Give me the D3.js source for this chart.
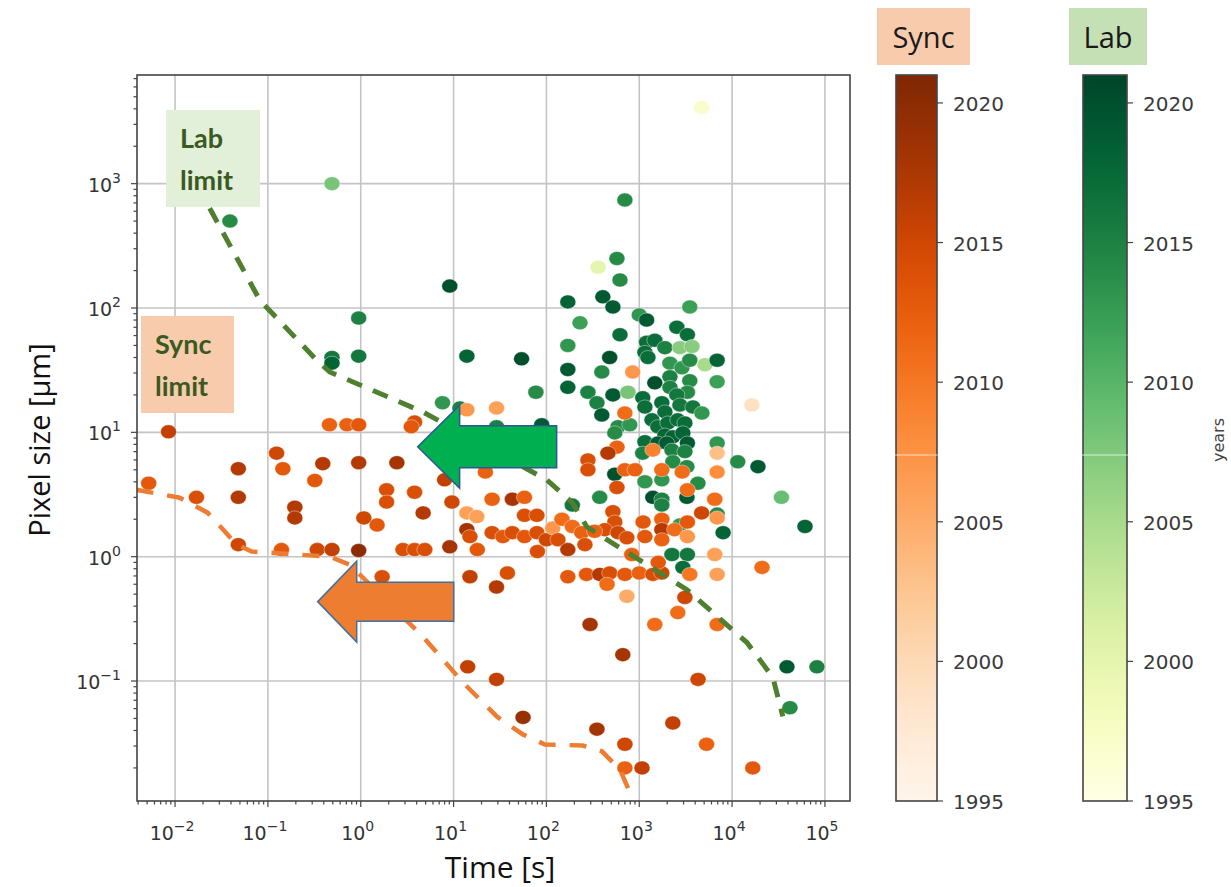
<!DOCTYPE html>
<html>
<head>
<meta charset="utf-8">
<script src="https://cdn.jsdelivr.net/npm/d3@7"></script>
<style>
  body { margin: 0; background: #fff; }
  svg { display: block; }
</style>
</head>
<body>
<svg id="chart" width="1231" height="887"></svg>
<script>
// [time s, pixel size um, year]
var syncData = [
  [0.0085, 10.1, 2016], [0.0052, 3.9, 2013], [0.017, 3.0, 2014], [0.048, 5.1, 2017], [0.048, 3.0, 2017],
  [0.048, 1.25, 2015], [0.124, 6.8, 2015], [0.145, 5.1, 2013], [0.39, 5.6, 2017], [0.32, 4.1, 2013],
  [0.195, 2.5, 2017], [0.195, 2.05, 2017], [0.14, 1.14, 2013], [0.34, 1.14, 2015], [0.49, 1.14, 2016],
  [0.95, 5.7, 2017], [0.95, 1.12, 2020], [1.08, 2.05, 2015], [0.46, 11.5, 2012], [0.71, 11.5, 2012],
  [0.95, 11.5, 2013], [3.8, 12.1, 2014], [3.5, 11.1, 2013], [13.9, 15.2, 2007], [29, 15.7, 2006],
  [2.45, 5.7, 2018], [1.9, 3.45, 2014], [1.9, 2.75, 2014], [3.8, 3.3, 2014], [4.7, 2.25, 2017],
  [1.5, 1.8, 2013], [8.0, 4.15, 2016], [9.6, 2.75, 2015], [22, 4.8, 2012], [2.85, 1.14, 2014],
  [3.8, 1.14, 2014], [4.9, 1.14, 2014], [9.1, 1.2, 2018], [13.9, 2.25, 2006], [17.8, 2.1, 2006],
  [13.9, 1.65, 2018], [15, 1.45, 2014], [18, 1.14, 2013], [26, 2.9, 2012], [43, 2.9, 2018],
  [58, 3.0, 2012], [26, 1.56, 2014], [34, 1.45, 2013], [43, 1.56, 2014], [58, 1.45, 2013],
  [79, 1.56, 2014], [100, 1.37, 2015], [58, 2.15, 2014], [79, 2.15, 2014], [80, 1.1, 2014],
  [117, 1.7, 2007], [15, 0.69, 2016], [29, 0.57, 2017], [38, 0.74, 2014], [1.7, 0.69, 2014],
  [170, 0.69, 2013], [270, 0.72, 2013], [375, 0.72, 2017], [480, 0.74, 2014], [700, 0.72, 2013],
  [1000, 0.74, 2012], [1400, 0.72, 2014], [1750, 0.74, 2015], [450, 0.6, 2011], [735, 0.48, 2005],
  [295, 0.285, 2018], [665, 0.163, 2018], [14.2, 0.13, 2016], [29, 0.103, 2016], [56, 0.051, 2019],
  [350, 0.041, 2018], [700, 0.031, 2015], [700, 0.020, 2012], [1070, 0.020, 2016], [1470, 0.285, 2011],
  [2600, 0.355, 2011], [3100, 0.47, 2015], [3500, 0.72, 2010], [6900, 0.72, 2006], [6900, 0.285, 2011],
  [21000, 0.82, 2011], [4300, 0.103, 2015], [2300, 0.046, 2016], [5300, 0.031, 2012], [16700, 0.020, 2013],
  [575, 7.6, 2012], [460, 6.8, 2017], [280, 6.0, 2014], [280, 5.0, 2014], [700, 5.0, 2012],
  [900, 5.0, 2012], [575, 3.6, 2014], [1400, 7.2, 2009], [1750, 5.0, 2011], [2900, 4.8, 2011],
  [3300, 3.45, 2011], [6500, 2.9, 2011], [6900, 6.8, 2003], [6900, 4.8, 2008], [520, 2.3, 2014],
  [545, 1.9, 2014], [425, 1.65, 2014], [590, 1.56, 2015], [735, 1.42, 2014], [147, 2.0, 2011],
  [190, 1.75, 2011], [240, 1.56, 2012], [330, 1.6, 2012], [133, 1.37, 2014], [170, 1.14, 2017],
  [260, 1.25, 2014], [1100, 1.9, 2013], [1150, 1.45, 2013], [1750, 2.0, 2012], [1750, 1.65, 2017],
  [1750, 1.37, 2012], [2400, 1.65, 2011], [3300, 1.9, 2013], [4700, 2.25, 2015], [6900, 2.05, 2007],
  [3300, 1.45, 2007], [6500, 1.04, 2006], [830, 1.04, 2012], [1600, 0.9, 2013], [850, 30.6, 2007],
  [700, 14.3, 2011], [16300, 16.6, 1999]
];

var labData = [
  [0.49, 1000, 2008], [0.039, 500, 2014], [9.1, 150, 2020], [0.95, 83, 2015], [0.49, 40, 2016],
  [0.49, 36, 2018], [0.95, 41, 2016], [13.9, 41, 2018], [54, 39, 2020], [77, 21, 2014],
  [7.6, 17.3, 2013], [11.7, 15.7, 2015], [29, 11.1, 2015], [89, 11.5, 2019], [4700, 4100, 1997],
  [700, 740, 2014], [575, 250, 2014], [620, 168, 2014], [360, 213, 2000], [170, 112, 2018],
  [405, 123, 2019], [520, 102, 2019], [3500, 102, 2012], [230, 76, 2012], [1000, 88, 2013],
  [1200, 80, 2019], [620, 61, 2017], [2540, 70, 2017], [3300, 61, 2017], [170, 50, 2013],
  [480, 40, 2020], [1200, 53, 2017], [1470, 55, 2017], [1150, 44, 2017], [1240, 40, 2017],
  [1890, 48, 2015], [2740, 48, 2007], [3700, 49, 2007], [2140, 36, 2013], [2880, 33, 2013],
  [3500, 38, 2014], [5100, 35, 2005], [6900, 38, 2018], [6900, 25.5, 2012], [170, 32, 2019],
  [395, 30.6, 2014], [170, 23, 2018], [280, 21, 2015], [350, 17.3, 2015], [520, 20, 2019],
  [755, 21, 2008], [1470, 25, 2020], [2140, 28, 2015], [2140, 23, 2015], [3500, 26, 2014],
  [3300, 21, 2014], [1090, 19, 2017], [1150, 16, 2017], [1750, 17.3, 2017], [1890, 14.6, 2017],
  [2540, 20, 2016], [2740, 16.6, 2016], [3780, 16, 2016], [4730, 14.3, 2013], [395, 13.8, 2019],
  [590, 11.1, 2014], [545, 9.9, 2014], [790, 11.5, 2013], [1370, 12.6, 2017], [1585, 11.1, 2017],
  [2030, 11.9, 2017], [2600, 12.6, 2017], [3100, 11.9, 2017], [1890, 9.5, 2018], [2300, 9.2, 2018],
  [2950, 9.9, 2018], [1150, 8.4, 2017], [1585, 8.2, 2019], [3300, 8.2, 2019], [6900, 8.2, 2013],
  [1980, 8.2, 2019], [2250, 7.2, 2015], [3100, 7.0, 2015], [1090, 6.8, 2015], [11500, 5.8, 2014],
  [19000, 5.3, 2019], [2300, 5.8, 2014], [3260, 5.3, 2014], [4280, 3.9, 2014], [545, 4.6, 2020],
  [1150, 4.0, 2013], [1750, 4.15, 2013], [375, 3.0, 2014], [1400, 3.0, 2020], [1750, 2.9, 2015],
  [1750, 2.6, 2015], [3260, 3.0, 2019], [190, 2.6, 2016], [6900, 2.2, 2014], [8000, 1.56, 2018],
  [2740, 1.8, 2013], [2250, 1.04, 2016], [3300, 1.04, 2016], [2950, 0.82, 2017], [34000, 3.0, 2009],
  [61000, 1.75, 2018], [39000, 0.13, 2019], [82000, 0.13, 2015], [42000, 0.061, 2014]
];

// dashed limit curves [time, size]
var labLimit = [
  [0.0236, 635], [0.0816, 116], [0.336, 38], [0.463, 30.6], [4.66, 14.6], [101, 4.15],
  [191, 2.71], [272, 1.74], [617, 1.18], [3258, 0.543], [14450, 0.204], [27500, 0.107], [35200, 0.052]
];
var syncLimit = [
  [0.00385, 3.45], [0.0112, 2.98], [0.0224, 2.26], [0.0462, 1.25], [0.0669, 1.10], [0.463, 1.0],
  [0.76, 0.863], [4.66, 0.228], [12.6, 0.0973], [29.2, 0.0519], [55.7, 0.0372], [96, 0.0309],
  [246, 0.0303], [396, 0.0272], [617, 0.0195], [794, 0.0127]
];

var xTickExps = [-2, -1, 0, 1, 2, 3, 4, 5];
var yTickExps = [-1, 0, 1, 2, 3];
var yearTicks = [1995, 2000, 2005, 2010, 2015, 2020];
var yearRange = [1995, 2021];

var svg = d3.select("#chart");
var plotL = 137, plotR = 850, plotT = 75, plotB = 801;

var x = d3.scaleLog().domain([Math.pow(10, -2.41), Math.pow(10, 5.27)]).range([plotL, plotR]);
var y = d3.scaleLog().domain([Math.pow(10, -1.965), Math.pow(10, 3.874)]).range([plotB, plotT]);
var syncColor = d3.scaleSequential(d3.interpolateOranges).domain(yearRange);
var labColor = d3.scaleSequential(d3.interpolateYlGn).domain(yearRange);

svg.append("defs").append("clipPath").attr("id", "plotClip")
  .append("rect").attr("x", plotL).attr("y", plotT)
  .attr("width", plotR - plotL).attr("height", plotB - plotT);

// grid
var grid = svg.append("g");
grid.selectAll(".gx").data(xTickExps).enter().append("line")
  .attr("x1", function(d) { return x(Math.pow(10, d)); })
  .attr("x2", function(d) { return x(Math.pow(10, d)); })
  .attr("y1", plotT).attr("y2", plotB)
  .attr("stroke", "#c4c4c4").attr("stroke-width", 1.6);
grid.selectAll(".gy").data(yTickExps).enter().append("line")
  .attr("y1", function(d) { return y(Math.pow(10, d)); })
  .attr("y2", function(d) { return y(Math.pow(10, d)); })
  .attr("x1", plotL).attr("x2", plotR)
  .attr("stroke", "#c4c4c4").attr("stroke-width", 1.6);

// points
var pts = svg.append("g").attr("clip-path", "url(#plotClip)");
pts.selectAll(".lab").data(labData).enter().append("ellipse")
  .attr("cx", function(d) { return x(d[0]); })
  .attr("cy", function(d) { return y(d[1]); })
  .attr("rx", 8).attr("ry", 7)
  .attr("fill", function(d) { return labColor(d[2]); })
  .attr("stroke", "#fff").attr("stroke-opacity", 0.5).attr("stroke-width", 0.8);
pts.selectAll(".sync").data(syncData).enter().append("ellipse")
  .attr("cx", function(d) { return x(d[0]); })
  .attr("cy", function(d) { return y(d[1]); })
  .attr("rx", 8).attr("ry", 7)
  .attr("fill", function(d) { return syncColor(d[2]); })
  .attr("stroke", "#fff").attr("stroke-opacity", 0.5).attr("stroke-width", 0.8);

// limit curves
var line = d3.line()
  .x(function(d) { return x(d[0]); })
  .y(function(d) { return y(d[1]); });
pts.append("path").attr("d", line(syncLimit))
  .attr("fill", "none").attr("stroke", "#ee7d33").attr("stroke-width", 4.5)
  .attr("stroke-dasharray", "17,14");
pts.append("path").attr("d", line(labLimit))
  .attr("fill", "none").attr("stroke", "#4f7f2f").attr("stroke-width", 5)
  .attr("stroke-dasharray", "16,12");

// axes frame + ticks
svg.append("rect").attr("x", plotL).attr("y", plotT)
  .attr("width", plotR - plotL).attr("height", plotB - plotT)
  .attr("fill", "none").attr("stroke", "#444").attr("stroke-width", 1.6);

var ticks = svg.append("g").attr("stroke", "#444").attr("stroke-width", 1.2);
var xMinor = [], yMinor = [];
d3.range(-3, 6).forEach(function(e) {
  d3.range(2, 10).forEach(function(m) {
    var v = m * Math.pow(10, e);
    if (x(v) > plotL && x(v) < plotR) xMinor.push(v);
    if (y(v) < plotB && y(v) > plotT) yMinor.push(v);
  });
});
ticks.selectAll(".xm").data(xMinor).enter().append("line")
  .attr("x1", function(d) { return x(d); }).attr("x2", function(d) { return x(d); })
  .attr("y1", plotB).attr("y2", plotB + 3.5);
ticks.selectAll(".ym").data(yMinor).enter().append("line")
  .attr("y1", function(d) { return y(d); }).attr("y2", function(d) { return y(d); })
  .attr("x1", plotL).attr("x2", plotL - 3.5);
ticks.selectAll(".xM").data(xTickExps).enter().append("line")
  .attr("x1", function(d) { return x(Math.pow(10, d)); }).attr("x2", function(d) { return x(Math.pow(10, d)); })
  .attr("y1", plotB).attr("y2", plotB + 6);
ticks.selectAll(".yM").data(yTickExps).enter().append("line")
  .attr("y1", function(d) { return y(Math.pow(10, d)); }).attr("y2", function(d) { return y(Math.pow(10, d)); })
  .attr("x1", plotL).attr("x2", plotL - 6);

function expLabel(sel) {
  sel.text("10").append("tspan")
    .attr("dy", -9).attr("font-size", 14)
    .text(function(d) { return d < 0 ? "\u2212" + Math.abs(d) : d; });
}
svg.selectAll(".xl").data(xTickExps).enter().append("text")
  .attr("x", function(d) { return x(Math.pow(10, d)) - 3; })
  .attr("y", 840)
  .attr("text-anchor", "middle")
  .attr("font-family", "DejaVu Sans").attr("font-size", 19).attr("fill", "#333")
  .call(expLabel);
svg.selectAll(".yl").data(yTickExps).enter().append("text")
  .attr("x", 121)
  .attr("y", function(d) { return y(Math.pow(10, d)) + 8; })
  .attr("text-anchor", "end")
  .attr("font-family", "DejaVu Sans").attr("font-size", 19).attr("fill", "#333")
  .call(expLabel);

svg.append("text").attr("x", 500).attr("y", 878)
  .attr("text-anchor", "middle")
  .attr("font-family", "Open Sans").attr("font-size", 30).attr("fill", "#111")
  .text("Time [s]");
svg.append("text")
  .attr("transform", "translate(50,440)rotate(-90)")
  .attr("text-anchor", "middle")
  .attr("font-family", "Open Sans").attr("font-size", 29).attr("fill", "#111")
  .text("Pixel size [\u00b5m]");

// colorbars
var cy = d3.scaleLinear().domain(yearRange).range([plotB, plotT]);
var bars = [
  { id: "gSync", x: 896, w: 41, color: syncColor, title: "Sync", bx: 877, bw: 93, box: "#f8cbad" },
  { id: "gLab", x: 1083, w: 44, color: labColor, title: "Lab", bx: 1069, bw: 78, box: "#c5e0b4" }
];
bars.forEach(function(b) {
  var grad = svg.select("defs").append("linearGradient").attr("id", b.id)
    .attr("x1", 0).attr("y1", 1).attr("x2", 0).attr("y2", 0);
  d3.range(0, 1.001, 0.05).forEach(function(t) {
    grad.append("stop").attr("offset", t)
      .attr("stop-color", b.color(yearRange[0] + t * (yearRange[1] - yearRange[0])));
  });
  svg.append("rect").attr("x", b.x).attr("y", plotT)
    .attr("width", b.w).attr("height", plotB - plotT)
    .attr("fill", "url(#" + b.id + ")")
    .attr("stroke", "#444").attr("stroke-width", 1.6);
  svg.selectAll(".ct" + b.id).data(yearTicks).enter().append("line")
    .attr("x1", b.x + b.w).attr("x2", b.x + b.w + 6)
    .attr("y1", function(d) { return cy(d); }).attr("y2", function(d) { return cy(d); })
    .attr("stroke", "#444").attr("stroke-width", 1.2);
  svg.selectAll(".cl" + b.id).data(yearTicks).enter().append("text")
    .attr("x", b.x + b.w + 16)
    .attr("y", function(d) { return cy(d) + 8; })
    .attr("font-family", "DejaVu Sans").attr("font-size", 20).attr("fill", "#3a3a3a")
    .text(function(d) { return d; });
  svg.append("rect").attr("x", b.bx).attr("y", 8).attr("width", b.bw).attr("height", 57)
    .attr("fill", b.box);
  svg.append("text").attr("x", b.bx + b.bw / 2).attr("y", 48)
    .attr("text-anchor", "middle")
    .attr("font-family", "Open Sans").attr("font-size", 29).attr("fill", "#1a1a1a")
    .text(b.title);
});
svg.append("line").attr("x1", 880).attr("x2", 1231).attr("y1", 455).attr("y2", 455)
  .attr("stroke", "#fff").attr("stroke-opacity", 0.7).attr("stroke-width", 1);
svg.append("text")
  .attr("transform", "translate(1224,440)rotate(-90)")
  .attr("text-anchor", "middle")
  .attr("font-family", "DejaVu Sans").attr("font-size", 16).attr("fill", "#444")
  .text("years");

// limit label boxes
var notes = [
  { x: 166, y: 110, w: 94, h: 97, fill: "#e2efd9", lines: ["Lab", "limit"] },
  { x: 141, y: 316, w: 93, h: 97, fill: "#f8cbad", lines: ["Sync", "limit"] }
];
notes.forEach(function(n) {
  svg.append("rect").attr("x", n.x).attr("y", n.y).attr("width", n.w).attr("height", n.h)
    .attr("fill", n.fill);
  n.lines.forEach(function(t, i) {
    svg.append("text").attr("x", n.x + 14).attr("y", n.y + 38 + i * 42)
      .attr("font-family", "Lato").attr("font-weight", 700).attr("font-size", 27)
      .attr("fill", "#3a5a22").text(t);
  });
});

// block arrows anchored at their tips
function arrowPath(tx, ty, headW, headH, bodyH, len) {
  return "M" + tx + "," + ty +
    "L" + (tx + headW) + "," + (ty - headH / 2) +
    "L" + (tx + headW) + "," + (ty - bodyH / 2) +
    "L" + (tx + len) + "," + (ty - bodyH / 2) +
    "L" + (tx + len) + "," + (ty + bodyH / 2) +
    "L" + (tx + headW) + "," + (ty + bodyH / 2) +
    "L" + (tx + headW) + "," + (ty + headH / 2) + "Z";
}
svg.append("path").attr("d", arrowPath(x(4.1), y(7.65), 42, 83, 42, 139))
  .attr("fill", "#00b050").attr("stroke", "#2f5597").attr("stroke-width", 1.5);
svg.append("path").attr("d", arrowPath(x(0.344), y(0.435), 39, 81, 39, 136))
  .attr("fill", "#ed7d31").attr("stroke", "#41719c").attr("stroke-width", 1.5);
</script>
</body>
</html>
